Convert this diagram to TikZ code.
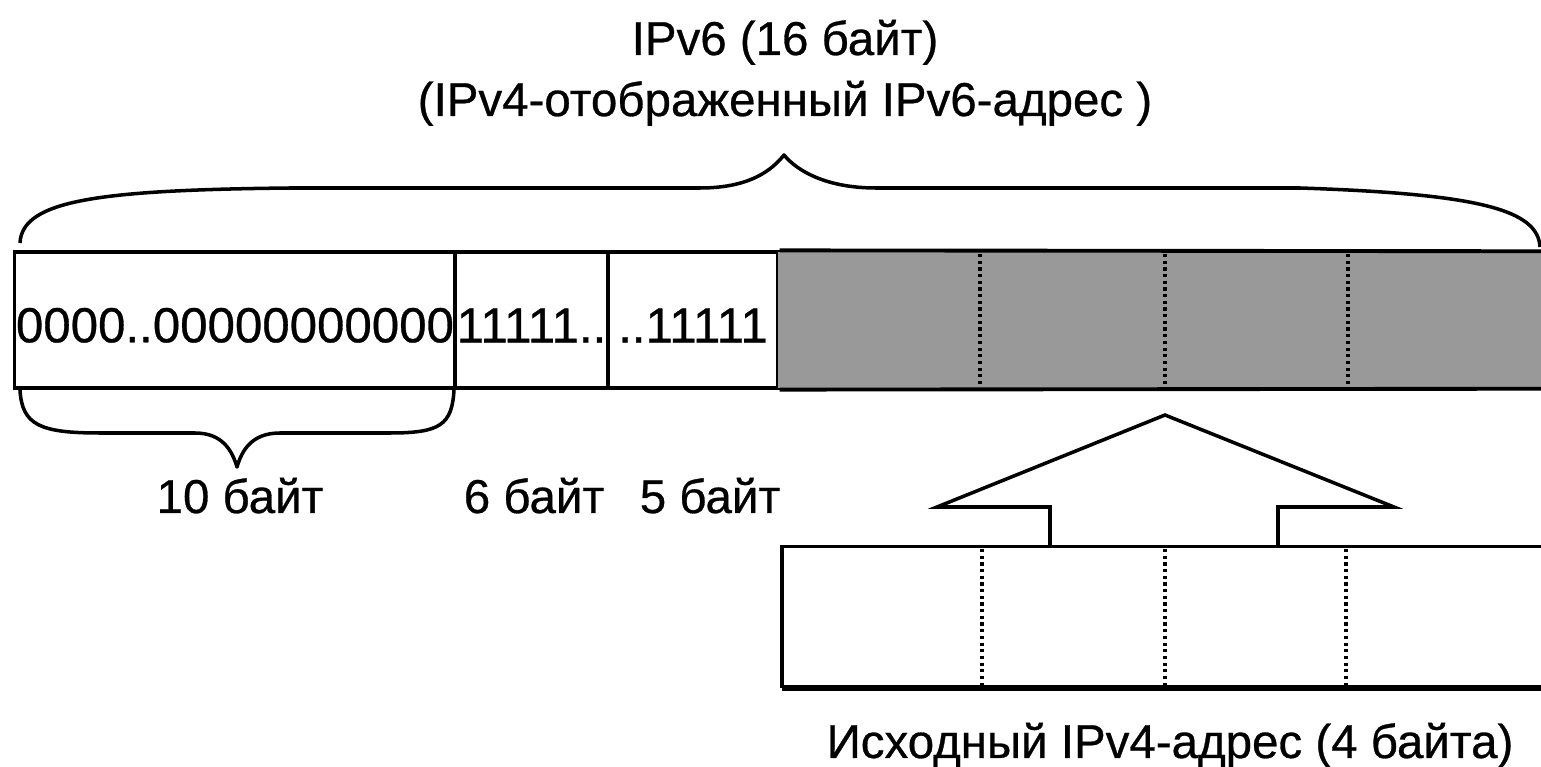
\documentclass[tikz,border=0pt]{standalone}
\usepackage{fontspec}
\setmainfont{Liberation Sans}[FakeBold=0.6]
\usetikzlibrary{positioning}

\begin{document}
\begin{tikzpicture}[
  x=0.01cm, y=-0.01cm,
  every node/.style={font=\fontsize{14}{17}\selectfont},
  cell/.style={draw, line width=0.9pt, inner sep=0pt,
    minimum height=1.36cm, text height=0.45cm, align=center},
  shaded/.style={fill=gray!80, inner sep=0pt,
    minimum height=1.36cm, minimum width=7.63cm},
  plain/.style={fill=white, inner sep=0pt,
    minimum height=1.40cm, minimum width=7.58cm},
  label/.style={anchor=base, inner sep=0pt, font=\fontsize{13.5}{16}\selectfont},
  brace/.style={line width=1pt, line join=round},
  bar/.style={line width=1.1pt},
  sep/.style={densely dotted, line width=0.9pt},
]
\useasboundingbox (0,0) rectangle (1541,767);

% title
\node[label] at (785, 55)  (title)    {IPv6 (16 байт)};
\node[label] at (785,116)  (subtitle) {(IPv4-отображенный IPv6-адрес )};

% ipv6 address
\node[cell, minimum width=4.40cm] at (235,320)   (zeros) {0000..00000000000};
\node[cell, minimum width=1.53cm] at (531.5,320) (onesA) {11111..};
\node[cell, minimum width=1.70cm] at (693,320)   (onesB) {..11111};
\node[shaded] at (1159.5,320) (mapped) {};
\draw[bar] (onesB.north east) -- (mapped.north east);
\draw[bar] (onesB.south east) -- (mapped.south east);
\foreach \x in {980,1165,1348}
  \draw[sep] (\x,254) -- (\x,386);

% braces
\draw[brace] (20,243) .. controls (22,200) and (100,190) .. (290,188)
  -- (700,188) .. controls (750,188) and (772,170) .. (784,155)
  .. controls (798,172) and (828,188) .. (876,188)
  -- (1300,188) .. controls (1480,194) and (1538,210) .. (1540,247);
\draw[brace] (20,390) .. controls (22,425) and (40,433) .. (100,433)
  -- (195,433) .. controls (222,433) and (232,450) .. (237,467)
  .. controls (242,450) and (252,433) .. (280,433)
  -- (390,433) .. controls (440,433) and (452,425) .. (454,390);

\node[label] at (240,513) (ten)  {10 байт};
\node[label] at (534,513) (six)  {6 байт};
\node[label] at (710,513) (five) {5 байт};

% ipv4 address
\node[plain] at (1162,617) (ipvfour) {};
\draw[line width=0.9pt] (ipvfour.north east) -- (ipvfour.north west) -- (ipvfour.south west);
\draw[line width=1.6pt] (ipvfour.south west) -- (ipvfour.south east);
\foreach \x in {982,1165,1346}
  \draw[sep] (\x,549) -- (\x,685);

% arrow
\draw[line width=1pt, line join=miter]
  (1050,547) -- (1050,507) -- (937,507) -- (1165,415)
  -- (1394,507) -- (1278,507) -- (1278,547);

\node[label] at (1170,758) (source) {Исходный IPv4-адрес (4 байта)};
\end{tikzpicture}
\end{document}
